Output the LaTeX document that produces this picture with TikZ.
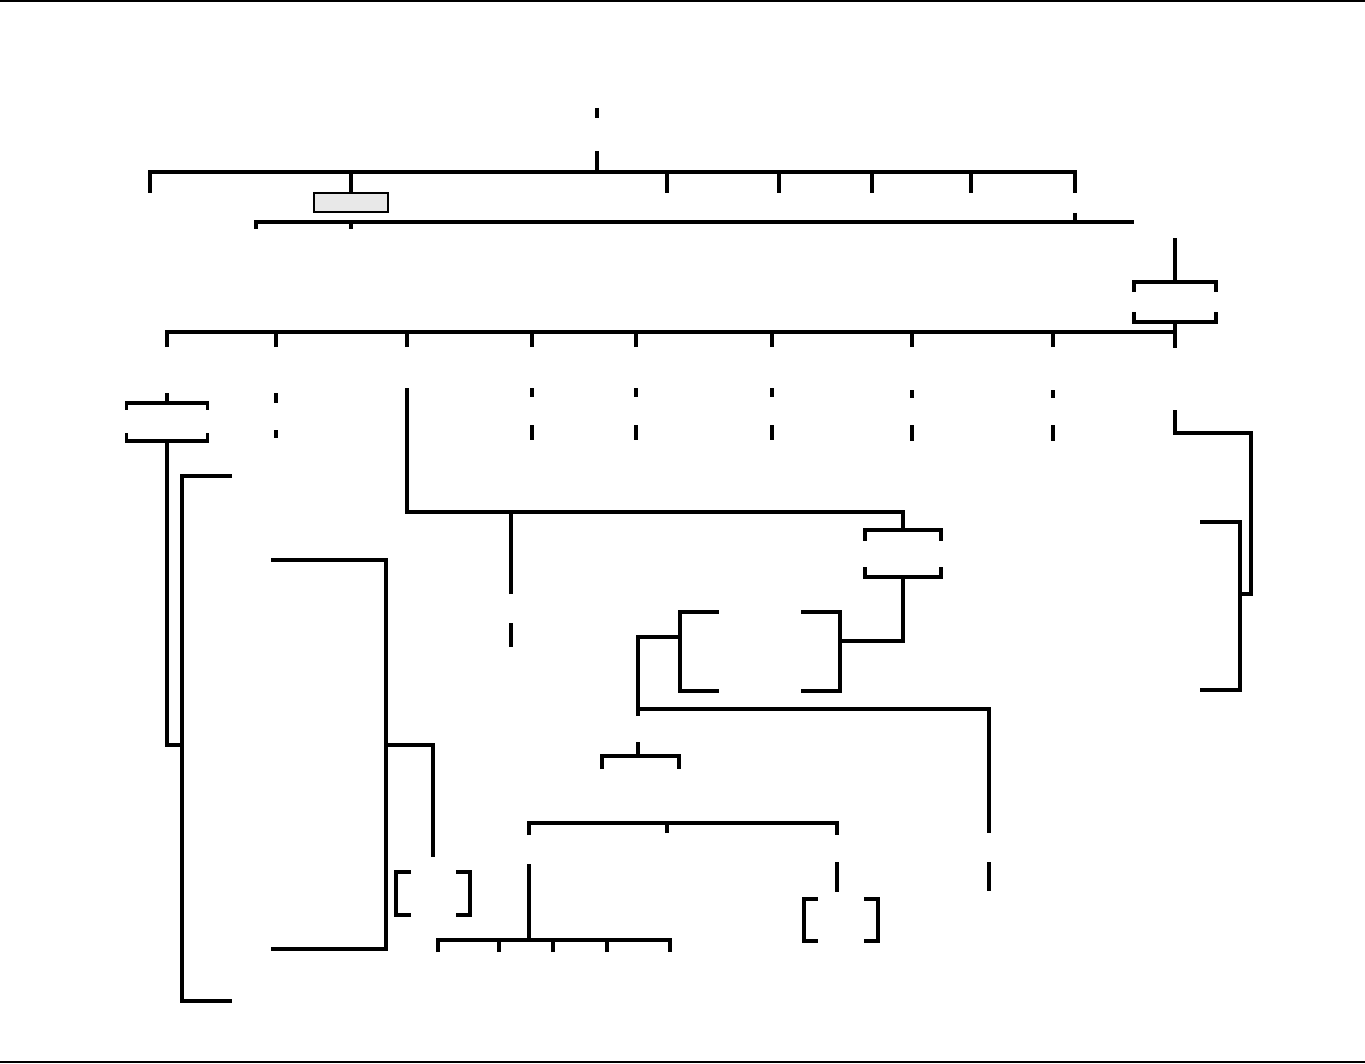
\documentclass[tikz,border=0pt]{standalone}
\usepackage{tikz}
\usetikzlibrary{positioning}
\definecolor{ink}{HTML}{000000}
\definecolor{boxgray}{HTML}{E8E8E8}
\tikzset{
  link/.style={draw=ink, line width=2pt},
  bar/.style={draw=ink, line width=2.6pt},
  ghost/.style 2 args={inner sep=0pt, outer sep=0pt, minimum width=#1*0.02cm, minimum height=#2*0.02cm},
  boxline/.style 2 args={draw=ink, line width=2pt, inner sep=0pt, outer sep=0pt, minimum width=#1*0.02cm, minimum height=#2*0.02cm},
  cover/.style 2 args={fill=white, inner sep=0pt, outer sep=0pt, minimum width=#1*0.02cm, minimum height=#2*0.02cm},
}
\begin{document}
\begin{tikzpicture}[x=0.02cm, y=-0.02cm]
\useasboundingbox (0,0) rectangle (1365,1064);
\draw[ink, line width=1.2pt] (0,1) -- (1365,1);
\draw[ink, line width=1.2pt] (0,1062) -- (1365,1062);
% top level
\node[ghost={60}{26}] (root) at (597,95) {};
\node[ghost={60}{33}] (head) at (597,134.5) {};
\coordinate (b1) at (597,172);
\node[ghost={40}{30}] (c1) at (150,208) {};
\node[draw=ink, line width=0.7pt, fill=boxgray, inner sep=0pt, outer sep=0pt, minimum width=74*0.02cm, minimum height=19*0.02cm] (c2) at (351,202.5) {};
\foreach \n/\x in {c3/667,c4/779,c5/872,c6/971} \node[ghost={40}{30}] (\n) at (\x,208) {};
\node[ghost={40}{20}] (c7) at (1075,203) {};
\draw[link] (root) -- (head);
\draw[link] (head) -- (b1);
\draw[bar] (c1.north) |- (b1) -| (c7.north);
\foreach \n in {c2,c3,c4,c5,c6} \draw[link] (\n.north) -- (\n.north |- b1);
\coordinate (b2) at (1134,222);
\node[ghost={40}{20}] (d1) at (256,239) {};
\node[ghost={40}{20}] (d2) at (351,239) {};
\draw[link] (d1.north) |- (b2);
\draw[link] (d2.north) -- (d2.north |- b2);
\draw[link] (c7.south) -- (c7.south |- b2);
% second level
\node[ghost={40}{26}] (r0) at (1175,225) {};
\node[boxline={82}{40}] (r1) at (1175,302) {};
\draw[link] (r0.south) -- (r1.north);
\coordinate (b3) at (1175,332);
\node[ghost={40}{46}] (e1) at (167,370) {};
\node[ghost={40}{46}] (e2) at (276,370) {};
\foreach \n/\x in {e3/407,e4/532,e5/636,e6/772} \node[ghost={40}{41}] (\n) at (\x,367.5) {};
\foreach \n/\x in {e7/912,e8/1053} \node[ghost={40}{43}] (\n) at (\x,368.5) {};
\node[ghost={40}{62}] (e9) at (1175,379) {};
\draw[link] (r1.south) -- (e9.north);
\draw[bar] (e1.north) |- (b3);
\foreach \n in {e2,e3,e4,e5,e6,e7,e8} \draw[link] (\n.north) -- (\n.north |- b3);
\node[ghost={40}{27}] (f2) at (276,416.5) {};
\node[ghost={40}{30}] (g2) at (276,453) {};
\foreach \i/\x in {4/532,5/636,6/772} {
  \node[ghost={40}{28}] (f\i) at (\x,411) {};
  \node[ghost={40}{30}] (g\i) at (\x,455) {};
}
\foreach \i/\x in {7/912,8/1053} {
  \node[ghost={40}{27}] (f\i) at (\x,411.5) {};
  \node[ghost={40}{30}] (g\i) at (\x,456) {};
}
\foreach \i in {2,4,5,6,7,8} {
  \draw[link] (e\i.south) -- (f\i.north);
  \draw[link] (f\i.south) -- (g\i.north);
}
% left branch
\node[boxline={81}{38}] (q1) at (167,422) {};
\draw[link] (e1.south) -- (q1.north);
\coordinate (ls1) at (182,745);
\node[ghost={60}{30}] (h1) at (262,476) {};
\node[ghost={60}{30}] (h2) at (262,1001) {};
\draw[link] (q1.south) |- (ls1);
\draw[link] (h1.west) -| (ls1) |- (h2.west);
\coordinate (ls2) at (386,745);
\node[ghost={60}{30}] (h3) at (241,560) {};
\node[ghost={60}{30}] (h4) at (241,949) {};
\node[boxline={74}{43}] (v1) at (433,893.5) {};
\draw[link] (h3.east) -| (ls2) |- (h4.east);
\draw[link] (ls2) -| (v1.north);
% middle branch
\coordinate (b4) at (903,512);
\node[boxline={76}{47}] (k1) at (903,553.5) {};
\node[ghost={40}{29}] (m1) at (511,608.5) {};
\node[ghost={40}{30}] (m2) at (511,662) {};
\draw[link] (e3.south) |- (b4) -- (k1.north);
\draw[link] (m1.north) -- (m1.north |- b4);
\draw[link] (m1.south) -- (m2.north);
\node[boxline={160}{79}] (k2) at (760,651.5) {};
\draw[link] (k1.south) |- (k2.east |- 0,641);
\node[ghost={40}{26}] (n1) at (638,729) {};
\node[ghost={40}{29}] (p1) at (989,847.5) {};
\node[ghost={40}{30}] (p2) at (989,906) {};
\draw[link] (k2.west |- 0,637) -| (n1.north);
\draw[link] (n1.north |- 0,709) -| (p1.north);
\draw[link] (p1.south) -- (p2.north);
\coordinate (b5) at (638,756);
\node[ghost={40}{30}] (o1) at (602,784) {};
\node[ghost={40}{30}] (o2) at (679,784) {};
\draw[link] (n1.south) -- (b5);
\draw[link] (o1.north) |- (b5) -| (o2.north);
\coordinate (b6) at (667,823);
\node[ghost={40}{29}] (s1) at (529,849.5) {};
\node[ghost={40}{30}] (s2) at (667,848) {};
\node[ghost={40}{27}] (s3) at (837,848.5) {};
\draw[link] (s1.north) |- (b6) -| (s3.north);
\draw[link] (s2.north) -- (s2.north |- b6);
\coordinate (b7) at (529,940);
\foreach \n/\x in {u1/438,u2/499,u3/553,u4/607,u5/670} \node[ghost={40}{30}] (\n) at (\x,967) {};
\draw[link] (s1.south) -- (b7);
\draw[link] (u1.north) |- (b7) -| (u5.north);
\foreach \n in {u2,u3,u4} \draw[link] (\n.north) -- (\n.north |- b7);
\node[boxline={74}{42}] (w1) at (841,920) {};
\draw[link] (s3.south) -- (s3.south |- w1.north);
% right branch
\coordinate (rk) at (1251,433);
\coordinate (rs) at (1240,594);
\node[ghost={60}{30}] (z1) at (1170,522) {};
\node[ghost={60}{30}] (z2) at (1170,690) {};
\draw[link] (e9.south) |- (rk) |- (rs);
\draw[link] (z1.east) -| (rs) |- (z2.east);
% label covers
\node[cover={95}{20}] (cr1) at (r1) {};
\node[cover={95}{23}] (cq1) at (167,421.5) {};
\node[cover={90}{26}] (ck1) at (903,554) {};
\node[cover={82}{95}] (ck2) at (k2) {};
\node[cover={45}{72}] (cv1) at (433,893) {};
\node[cover={46}{56}] (cw1) at (841,920) {};
\end{tikzpicture}
\end{document}
